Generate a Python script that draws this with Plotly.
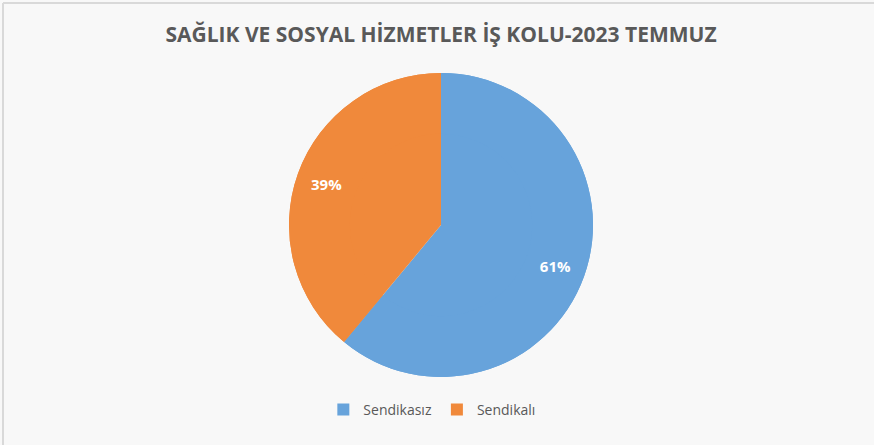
import plotly.graph_objects as go

categories = ["Sendikasız", "Sendikalı"]
values = [61, 39]
colors = ["#67A3DB", "#F0893B"]
title_text = "SAĞLIK VE SOSYAL HİZMETLER İŞ KOLU-2023 TEMMUZ"

W, H = 874, 445
ml = 8
pw = W - ml
dom = dict(x=[0, 1], y=[68 / H, 372 / H])

fig = go.Figure()
# full pie (colours, legend)
fig.add_trace(go.Pie(
    labels=categories, values=values,
    marker=dict(colors=colors, line=dict(width=0)),
    sort=False, direction="clockwise", rotation=0,
    textinfo="none", domain=dom, hoverinfo="label+percent",
))
# outer ring overlay that carries the percentage labels further out
fig.add_trace(go.Pie(
    labels=categories, values=values, hole=0.6,
    marker=dict(colors=colors, line=dict(width=0)),
    sort=False, direction="clockwise", rotation=0,
    texttemplate="%{percent:.0%}", textposition="inside",
    insidetextorientation="horizontal",
    insidetextfont=dict(family="Open Sans", size=15, color="#FFFFFF", weight="bold"),
    domain=dom, showlegend=False, hoverinfo="skip",
))

fig.update_layout(
    width=W, height=H,
    margin=dict(l=ml, r=0, t=0, b=0),
    paper_bgcolor="#F8F8F8",
    plot_bgcolor="#F8F8F8",
    title=dict(text="<b>" + title_text + "</b>", x=0.5, xref="paper", xanchor="center",
               y=1 - 35 / H, yref="paper", yanchor="middle",
               font=dict(family="Open Sans", size=21, color="#595959")),
    showlegend=True,
    legend=dict(orientation="h", x=0.49, xanchor="center", y=1 - 410 / H, yanchor="middle",
                font=dict(family="Open Sans", size=14, color="#595959"),
                bgcolor="rgba(0,0,0,0)", itemwidth=30),
    shapes=[
        dict(type="line", xref="paper", yref="paper", x0=(3 - ml) / pw, x1=1.01, y0=1 - 3 / H, y1=1 - 3 / H,
             line=dict(color="#D9D9D9", width=2)),
        dict(type="line", xref="paper", yref="paper", x0=(3 - ml) / pw, x1=(3 - ml) / pw, y0=1 - 3 / H, y1=-0.01,
             line=dict(color="#D9D9D9", width=2)),
    ],
)

fig.write_html("out.html", config={"displayModeBar": False},
               post_script="document.body.style.margin='0px';document.body.style.overflow='hidden';")
